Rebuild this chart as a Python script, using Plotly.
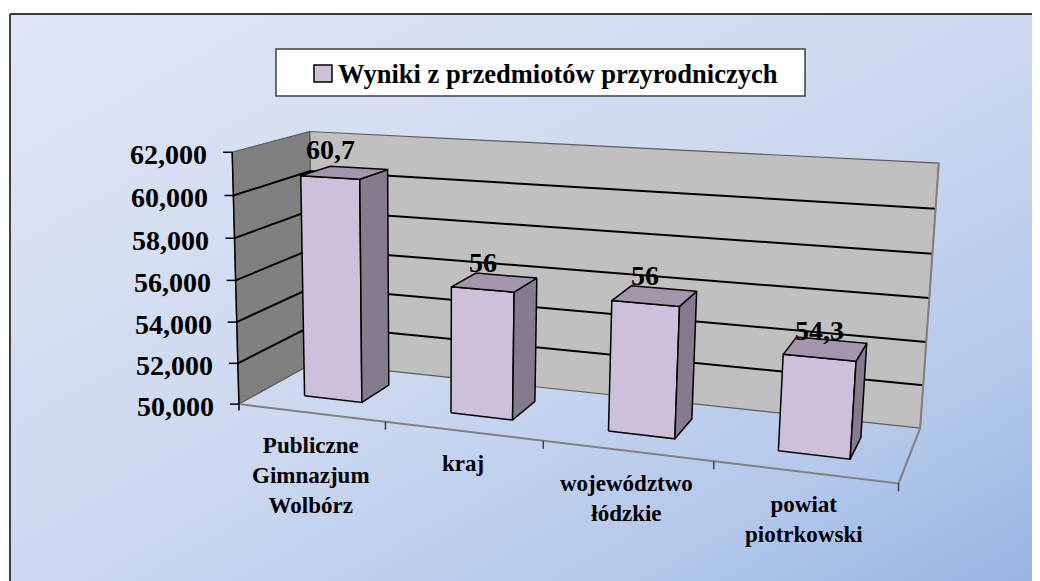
import base64
import numpy as np
import plotly.graph_objects as go

# ---------------- data ----------------
categories = ["Publiczne<br>Gimnazjum<br>Wolbórz", "kraj", "województwo<br>łódzkie", "powiat<br>piotrkowski"]
values = [60.7, 56.0, 56.0, 54.3]
value_labels = ["60,7", "56", "56", "54,3"]
y_ticks = [50, 52, 54, 56, 58, 60, 62]
y_tick_labels = ["50,000", "52,000", "54,000", "56,000", "58,000", "60,000", "62,000"]
series_name = "Wyniki z przedmiotów przyrodniczych"

Y_MIN, Y_MAX = 50, 62
N = len(categories)

# ---------------- perspective camera (fitted to the 3-D box corners) ----------------
# world: X = category axis (0..N), Y = value axis, Z = depth (0 front .. 1 back wall)
cal_world = [(0, 50, 0), (0, 62, 0), (0, 62, 1), (0, 50, 1), (4, 62, 1), (4, 50, 1),
             (4, 50, 0), (1, 50, 0), (2, 50, 0), (3, 50, 0)]
cal_px = [(243, 400), (227, 153), (315, 131), (308, 367), (938, 163), (921, 424),
          (898, 487), (387, 420), (544, 441), (713, 463)]


def _norm_w(X, Y, Z):
    return [X / N, (Y - Y_MIN) / (Y_MAX - Y_MIN), Z, 1.0]


def fit_camera():
    rows = []
    for (X, Y, Z), (u, v) in zip(cal_world, cal_px):
        h = _norm_w(X, Y, Z)
        un, vn = (u - 600) / 300.0, (v - 300) / 300.0
        rows.append(h + [0, 0, 0, 0] + [-un * a for a in h])
        rows.append([0, 0, 0, 0] + h + [-vn * a for a in h])
    _, _, vt = np.linalg.svd(np.array(rows))
    return vt[-1].reshape(3, 4)


CAM = fit_camera()


def proj(X, Y, Z):
    w = CAM @ np.array(_norm_w(X, Y, Z))
    return w[0] / w[2] * 300 + 600, w[1] / w[2] * 300 + 300


def poly(pts):
    xs, ys = [], []
    for p in pts:
        u, v = proj(*p)
        xs.append(u)
        ys.append(v)
    xs.append(xs[0])
    ys.append(ys[0])
    return xs, ys


fig = go.Figure()

# back wall and left wall
for pts, col in [([(0, Y_MIN, 1), (N, Y_MIN, 1), (N, Y_MAX, 1), (0, Y_MAX, 1)], "#c0c0c0"),
                 ([(0, Y_MIN, 0), (0, Y_MIN, 1), (0, Y_MAX, 1), (0, Y_MAX, 0)], "#808080")]:
    xs, ys = poly(pts)
    fig.add_trace(go.Scatter(x=xs, y=ys, mode="lines", fill="toself", fillcolor=col,
                             line=dict(color="#5a5a5a", width=1.2), hoverinfo="skip", showlegend=False))

# gridlines
gx, gy = [], []
for t in y_ticks[1:-1]:
    for p in [(0, t, 0), (0, t, 1), (N, t, 1)]:
        u, v = proj(*p)
        gx.append(u)
        gy.append(v)
    gx.append(None)
    gy.append(None)
fig.add_trace(go.Scatter(x=gx, y=gy, mode="lines", line=dict(color="black", width=2),
                         hoverinfo="skip", showlegend=False))

# floor edges
fx, fy = [], []
for p in [(0, Y_MIN, 0), (N, Y_MIN, 0), (N, Y_MIN, 1), (N, Y_MAX, 1)]:
    u, v = proj(*p)
    fx.append(u)
    fy.append(v)
fig.add_trace(go.Scatter(x=fx, y=fy, mode="lines", line=dict(color="#808080", width=2),
                         hoverinfo="skip", showlegend=False))

# category tick marks
tx, ty = [], []
for k in range(1, N + 1):
    u, v = proj(k, Y_MIN, 0)
    tx += [u, u, None]
    ty += [v, v + 8, None]
fig.add_trace(go.Scatter(x=tx, y=ty, mode="lines", line=dict(color="#404040", width=1.5),
                         hoverinfo="skip", showlegend=False))

# value axis line + ticks
ax_x, ax_y = [], []
u0, v0 = proj(0, Y_MIN, 0)
u1, v1 = proj(0, Y_MAX, 0)
ax_x += [u0, u0 + (u0 - u1) * 0.02, None, u0, u1, None]
ax_y += [v0, v0 + (v0 - v1) * 0.025, None, v0, v1, None]
for t in y_ticks:
    u, v = proj(0, t, 0)
    ax_x += [u - 9, u, None]
    ax_y += [v, v, None]
fig.add_trace(go.Scatter(x=ax_x, y=ax_y, mode="lines", line=dict(color="black", width=1.5),
                         hoverinfo="skip", showlegend=False))

# bars
ZF, ZB = 0.3, 0.7
GAP = 0.3
FRONT, SIDE, TOP = "#ccc0da", "#857b8f", "#a395ab"
for i, val in enumerate(values):
    x0, x1 = i + GAP, i + 1 - GAP
    faces = [
        ([(x0, Y_MIN, ZF), (x1, Y_MIN, ZF), (x1, val, ZF), (x0, val, ZF)], FRONT),
        ([(x1, Y_MIN, ZF), (x1, Y_MIN, ZB), (x1, val, ZB), (x1, val, ZF)], SIDE),
        ([(x0, val, ZF), (x1, val, ZF), (x1, val, ZB), (x0, val, ZB)], TOP),
    ]
    for pts, col in faces:
        xs, ys = poly(pts)
        fig.add_trace(go.Scatter(x=xs, y=ys, mode="lines", fill="toself", fillcolor=col,
                                 line=dict(color="black", width=1.5), hoverinfo="skip",
                                 showlegend=False, name=series_name))

FONT = "Liberation Serif"
ann = []
for t, lab in zip(y_ticks, y_tick_labels):
    u, v = proj(0, t, 0)
    ann.append(dict(x=u, y=v, text=lab, showarrow=False, xanchor="right", yanchor="middle",
                    xshift=-23, yshift=-2, font=dict(family=FONT, size=28, color="black", weight="bold")))
for i, (val, lab) in enumerate(zip(values, value_labels)):
    u, v = proj(i + 0.5, val, ZF)
    ann.append(dict(x=u, y=v, text=lab, showarrow=False, xanchor="center", yanchor="bottom",
                    yshift=10, font=dict(family=FONT, size=28, color="black", weight="bold")))
for i, cat in enumerate(categories):
    u, v = proj(i + 0.5, Y_MIN, 0)
    ann.append(dict(x=u, y=v, text=cat, showarrow=False, xanchor="center", yanchor="top",
                    yshift=-18, align="center",
                    font=dict(family=FONT, size=23, color="black", weight="bold")))

# legend (drawn as a boxed key above the plot)
LEG_BOX = (276, 49, 805, 96)
LEG_KEY = (314, 65, 332, 82)
ann.append(dict(x=LEG_KEY[2] + 4, y=(LEG_KEY[1] + LEG_KEY[3]) / 2, text=series_name, showarrow=False,
                xanchor="left", yanchor="middle",
                font=dict(family=FONT, size=26.5, color="black", weight="bold")))

# the page body has an 8px margin: shift the drawing frame so page pixels line up
OFF = 8
PAGE_W, PAGE_H = 1040, 581
W, H = PAGE_W - OFF, PAGE_H - OFF


def px_x(u):
    return (u - OFF) / W


def px_y(v):
    return 1 - (v - OFF) / H


# gradient chart-area background
svg = ('<svg xmlns="http://www.w3.org/2000/svg" width="1030" height="567" preserveAspectRatio="none">'
       '<defs><linearGradient id="g" x1="0" y1="0" x2="1" y2="1">'
       '<stop offset="0" stop-color="#dfe6f5"/><stop offset="0.5" stop-color="#cdd9f0"/>'
       '<stop offset="0.8" stop-color="#b4c8eb"/><stop offset="1" stop-color="#98b3e3"/>'
       '</linearGradient></defs>'
       '<rect width="1030" height="567" fill="url(#g)"/></svg>')
src = "data:image/svg+xml;base64," + base64.b64encode(svg.encode()).decode()

fig.update_layout(
    width=W, height=H, margin=dict(l=0, r=0, t=0, b=0),
    paper_bgcolor="white", plot_bgcolor="rgba(0,0,0,0)",
    xaxis=dict(range=[OFF, PAGE_W], visible=False, fixedrange=True),
    yaxis=dict(range=[PAGE_H, OFF], visible=False, fixedrange=True),
    images=[dict(source=src, xref="paper", yref="paper", x=px_x(10), y=px_y(14),
                 sizex=(PAGE_W - 10) / W, sizey=(PAGE_H - 14) / H, xanchor="left", yanchor="top",
                 sizing="stretch", layer="below")],
    shapes=[dict(type="line", xref="paper", yref="paper", x0=px_x(10), x1=1, y0=px_y(14), y1=px_y(14),
                 line=dict(color="black", width=1.5)),
            dict(type="line", xref="paper", yref="paper", x0=px_x(10), x1=px_x(10), y0=0, y1=px_y(14),
                 line=dict(color="#404040", width=2)),
            dict(type="rect", xref="x", yref="y", x0=LEG_BOX[0], y0=LEG_BOX[1], x1=LEG_BOX[2], y1=LEG_BOX[3],
                 fillcolor="white", line=dict(color="#404040", width=1.5)),
            dict(type="rect", xref="x", yref="y", x0=LEG_KEY[0], y0=LEG_KEY[1], x1=LEG_KEY[2], y1=LEG_KEY[3],
                 fillcolor=FRONT, line=dict(color="black", width=1.5))],
    annotations=ann,
    showlegend=False,
)

fig.write_html("out.html")
